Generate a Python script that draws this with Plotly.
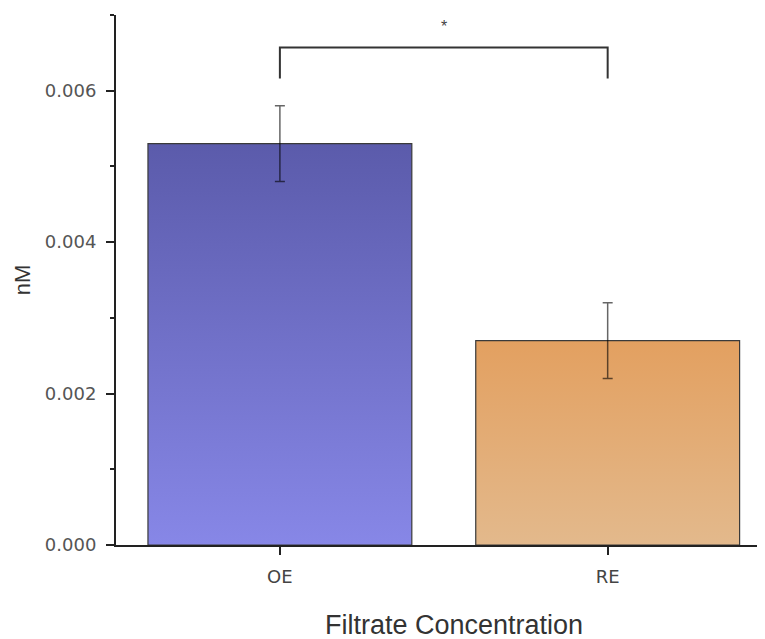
import plotly.graph_objects as go

categories = ["OE", "RE"]
values = [0.0053, 0.0027]
errors = [0.0005, 0.0005]
top_colors = ["#5b5bab", "#e3a060"]
bottom_colors = ["#8787e7", "#e3b98c"]
y_tickvals = [0, 0.002, 0.004, 0.006]
y_ticktext = ["0.000", "0.002", "0.004", "0.006"]
x_title = "Filtrate Concentration"
y_title = "nM"
sig_label = "*"
sig_low = 0.00616
sig_high = 0.00657
sig_text_y = 0.00685

bar_width = 0.805
xs = list(range(len(categories)))

fig = go.Figure()
for i, (c, v) in enumerate(zip(categories, values)):
    x0, x1 = xs[i] - bar_width / 2, xs[i] + bar_width / 2
    fig.add_trace(go.Scatter(
        x=[x0, x0, x1, x1, x0], y=[0, v, v, 0, 0],
        mode="lines", fill="toself",
        fillgradient=dict(type="vertical",
                          colorscale=[[0, bottom_colors[i]], [1, top_colors[i]]]),
        line=dict(color="#3a3a3a", width=1.2),
        hoverinfo="skip", showlegend=False))

fig.add_trace(go.Scatter(
    x=xs, y=values, mode="markers",
    marker=dict(size=0.1, color="rgba(0,0,0,0)"),
    error_y=dict(type="data", array=errors, visible=True,
                 color="rgba(0,0,0,0.6)", thickness=1.5, width=5),
    showlegend=False, hoverinfo="skip"))

fig.add_trace(go.Scatter(
    x=[xs[0], xs[0], xs[1], xs[1]],
    y=[sig_low, sig_high, sig_high, sig_low],
    mode="lines", line=dict(color="#333333", width=2),
    showlegend=False, hoverinfo="skip"))

fig.add_annotation(x=(xs[0] + xs[1]) / 2, y=sig_text_y, text=sig_label,
                   showarrow=False, font=dict(size=16, color="#444444",
                                              family="Liberation Sans, Arial"))

fig.add_annotation(xref="paper", yref="paper", x=0.521, y=-0.151,
                   xanchor="center", yanchor="middle", text=x_title,
                   showarrow=False,
                   font=dict(size=27, color="#333333",
                             family="Liberation Sans, Arial"))

fig.update_layout(
    width=757, height=631,
    margin=dict(l=108, r=0, t=7, b=94),
    plot_bgcolor="white", paper_bgcolor="white",
    font=dict(family="Liberation Sans, Arial", color="#444444"),
    xaxis=dict(range=[-0.5, 1.48], tickvals=xs, ticktext=categories,
               showline=True, linecolor="#222222", linewidth=2,
               ticks="outside", ticklen=8, tickcolor="#222222", tickwidth=2,
               showgrid=False, zeroline=False,
               tickfont=dict(size=18, color="#444444", family="DejaVu Sans"),
               ticklabelstandoff=6),
    yaxis=dict(range=[0, 0.007], tickvals=y_tickvals, ticktext=y_ticktext,
               showline=True, linecolor="#222222", linewidth=2,
               ticks="outside", ticklen=8, tickcolor="#222222", tickwidth=2,
               minor=dict(ticks="outside", ticklen=4, dtick=0.001,
                          tickcolor="#222222", tickwidth=2, showgrid=False),
               showgrid=False, zeroline=False,
               tickfont=dict(size=18, color="#555555", family="DejaVu Sans"),
               ticklabelstandoff=6,
               title=dict(text=y_title, font=dict(size=22, color="#333333"),
                          standoff=8)),
)

fig.write_html("out.html")
